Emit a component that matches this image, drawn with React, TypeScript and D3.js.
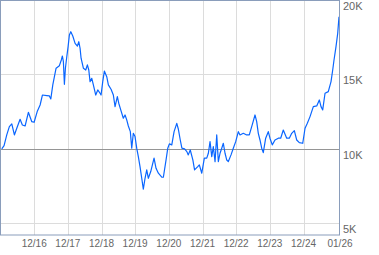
import React from "react";
import * as d3 from "d3";

// Time as decimal years, value in index points
const times: number[] = [
  2015.953, 2016.021, 2016.101, 2016.178, 2016.25, 2016.327, 2016.398, 2016.496, 2016.564, 2016.645,
  2016.742, 2016.843, 2016.912, 2017.01, 2017.09, 2017.158, 2017.289, 2017.366, 2017.408, 2017.467,
  2017.515, 2017.565, 2017.663, 2017.723, 2017.752, 2017.782, 2017.812, 2017.842, 2017.883, 2017.922,
  2017.96, 2018.002, 2018.061, 2018.13, 2018.198, 2018.24, 2018.278, 2018.308, 2018.376, 2018.447,
  2018.495, 2018.537, 2018.575, 2018.626, 2018.673, 2018.744, 2018.804, 2018.872, 2018.902, 2018.952,
  2019.0, 2019.071, 2019.119, 2019.199, 2019.267, 2019.318, 2019.386, 2019.428, 2019.487, 2019.564,
  2019.615, 2019.665, 2019.713, 2019.772, 2019.814, 2019.861, 2019.912, 2019.962, 2020.01, 2020.06,
  2020.111, 2020.158, 2020.209, 2020.259, 2020.307, 2020.378, 2020.476, 2020.535, 2020.604, 2020.705,
  2020.752, 2020.832, 2020.883, 2020.93, 2021.002, 2021.07, 2021.15, 2021.198, 2021.254, 2021.302,
  2021.382, 2021.45, 2021.492, 2021.551, 2021.628, 2021.679, 2021.774, 2021.821, 2021.893, 2021.97,
  2022.041, 2022.089, 2022.139, 2022.19, 2022.237, 2022.288, 2022.338, 2022.386, 2022.436, 2022.487,
  2022.534, 2022.585, 2022.635, 2022.683, 2022.763, 2022.831, 2022.902, 2022.98, 2023.03, 2023.128,
  2023.229, 2023.306, 2023.378, 2023.476, 2023.526, 2023.574, 2023.624, 2023.675, 2023.722, 2023.793,
  2023.871, 2023.921, 2023.989, 2024.07, 2024.168, 2024.239, 2024.316, 2024.417, 2024.494, 2024.566,
  2024.643, 2024.714, 2024.791, 2024.892, 2024.961, 2025.029, 2025.109, 2025.207, 2025.308, 2025.385,
  2025.436, 2025.486, 2025.555, 2025.652, 2025.733, 2025.783, 2025.822, 2025.881, 2025.932, 2025.97,
];

const values: number[] = [
  10000, 10221, 10940, 11500, 11680, 10940, 11390, 11990, 11610, 11540,
  12460, 11830, 11790, 12550, 12950, 13620, 13580, 13560, 13360, 14300,
  14850, 15420, 15590, 15990, 16240, 15860, 14340, 15420, 16190, 16870,
  17650, 17870, 17580, 17090, 16910, 17200, 16760, 16090, 15420, 15300,
  15640, 15300, 14520, 14740, 14300, 13620, 13960, 13740, 13620, 14520,
  15230, 14850, 14300, 14010, 13620, 12840, 13510, 13070, 12620, 12060,
  12280, 11950, 11540, 11160, 10050, 11050, 10830, 10050, 9480, 8810,
  8030, 7300, 8030, 8590, 8030, 8480, 9380, 8700, 8370, 8100,
  8100, 9260, 10050, 10340, 10270, 11160, 11720, 11320, 10600, 10050,
  10000, 9820, 9600, 9930, 9260, 8590, 8810, 8930, 8370, 9380,
  9380, 9710, 10490, 9480, 10150, 9150, 10940, 9150, 9710, 10050,
  10380, 9710, 9260, 9150, 9600, 10050, 10490, 11160, 10940, 11050,
  10940, 10940, 11500, 12280, 11830, 11050, 10600, 10050, 9750, 10720,
  11160, 10720, 10270, 10600, 10720, 10720, 11270, 10720, 10720, 11050,
  11230, 10600, 10420, 10380, 11390, 11720, 12170, 12840, 12890, 13290,
  12840, 12620, 13740, 13850, 14520, 15300, 15970, 16870, 17760, 18880,
];

const yTicks: number[] = [5000, 10000, 15000, 20000];
const yTickLabels: string[] = ["5K", "10K", "15K", "20K"];
const baseline = 10000;

const xTickDates: Date[] = [
  new Date(Date.UTC(2016, 11, 1)),
  new Date(Date.UTC(2017, 11, 1)),
  new Date(Date.UTC(2018, 11, 1)),
  new Date(Date.UTC(2019, 11, 1)),
  new Date(Date.UTC(2020, 11, 1)),
  new Date(Date.UTC(2021, 11, 1)),
  new Date(Date.UTC(2022, 11, 1)),
  new Date(Date.UTC(2023, 11, 1)),
  new Date(Date.UTC(2024, 11, 1)),
  new Date(Date.UTC(2026, 0, 1)),
];
const xTickLabels: string[] = ["12/16", "12/17", "12/18", "12/19", "12/20", "12/21", "12/22", "12/23", "12/24", "01/26"];

function yearToDate(t: number): Date {
  const y = Math.floor(t);
  const start = Date.UTC(y, 0, 1);
  const end = Date.UTC(y + 1, 0, 1);
  return new Date(start + (t - y) * (end - start));
}

const W = 379;
const H = 255;
const left = 0.5;
const right = 339.5;
const top = 0.5;
const bottom = 235;

export default function App() {
  const x = d3
    .scaleUtc()
    .domain([new Date(Date.UTC(2015, 11, 1)), new Date(Date.UTC(2026, 0, 1))])
    .range([0.5, 340]);
  const y = d3.scaleLinear().domain([5000, 20000]).range([223.4, 0]);

  const data = times.map((t, i) => ({ d: yearToDate(t), v: values[i] }));
  const line = d3
    .line<{ d: Date; v: number }>()
    .x((p) => x(p.d))
    .y((p) => y(p.v));

  const labelFont = "'Liberation Sans', Arial, Helvetica, sans-serif";

  return (
    <svg
      width={W}
      height={H}
      style={{ position: "absolute", left: 0, top: 0, background: "#fff" }}
    >
      <rect x={0} y={0} width={W} height={H} fill="#fff" />
      {xTickDates.slice(0, -1).map((d, i) => (
        <line
          key={"vg" + i}
          x1={Math.round(x(d)) + 0.5}
          x2={Math.round(x(d)) + 0.5}
          y1={top}
          y2={bottom}
          stroke="#dcdcdc"
          strokeWidth={1}
        />
      ))}
      {yTicks.map((t, i) =>
        t === baseline || t === 20000 ? null : (
          <line
            key={"hg" + i}
            x1={left}
            x2={right}
            y1={Math.round(y(t)) + 0.5}
            y2={Math.round(y(t)) + 0.5}
            stroke="#dcdcdc"
            strokeWidth={1}
          />
        )
      )}
      <line
        x1={left}
        x2={right}
        y1={Math.round(y(baseline)) + 0.5}
        y2={Math.round(y(baseline)) + 0.5}
        stroke="#959595"
        strokeWidth={1}
      />
      <path d={line(data) || ""} fill="none" stroke="#0a66ff" strokeWidth={1.2} strokeLinejoin="round" />
      <rect
        x={left}
        y={top}
        width={right - left}
        height={bottom - top}
        fill="none"
        stroke="#8a9dbb"
        strokeWidth={1}
      />
      {yTicks.map((t, i) => (
        <text
          key={"yl" + i}
          x={343}
          y={y(t) + 10}
          fontFamily={labelFont}
          fontSize={11}
          fill="#666"
        >
          {yTickLabels[i]}
        </text>
      ))}
      {xTickDates.map((d, i) => (
        <text
          key={"xl" + i}
          x={x(d)}
          y={247}
          textAnchor="middle"
          fontFamily={labelFont}
          fontSize={10}
          fill="#666"
        >
          {xTickLabels[i]}
        </text>
      ))}
    </svg>
  );
}
